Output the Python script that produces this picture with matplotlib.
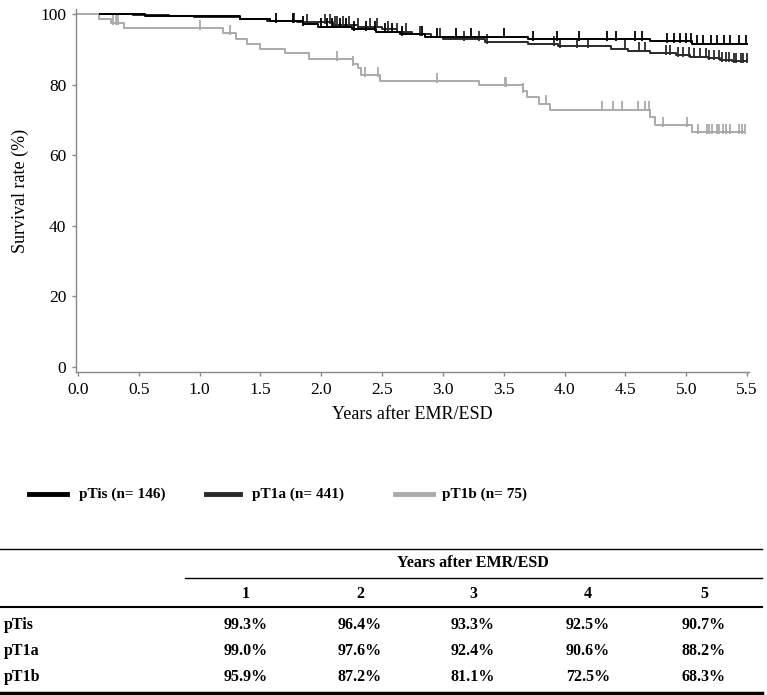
import matplotlib
matplotlib.use("Agg")
import matplotlib.pyplot as plt
from matplotlib.lines import Line2D

plt.rcParams["font.family"] = ["Liberation Serif", "DejaVu Serif"]

# Kaplan-Meier steps (years, survival %)
tis_t = [0.18, 0.55, 1.33, 1.58, 1.85, 1.97, 2.25, 2.45, 2.65, 2.85, 3.70, 4.70, 5.05, 5.50]
tis_s = [100.0, 99.3, 98.6, 97.9, 97.1, 96.4, 95.7, 95.0, 94.2, 93.6, 92.9, 92.2, 91.6, 91.6]
tis_cens = [1.63, 1.77, 1.85, 2.00, 2.05, 2.09, 2.15, 2.20, 2.27, 2.37, 2.44, 2.52, 2.58,
            2.66, 2.83, 2.95, 3.11, 3.23, 3.50, 3.74, 3.94, 4.12, 4.35, 4.42, 4.58,
            4.64, 4.84, 4.90, 4.95, 5.00, 5.04, 5.09, 5.14, 5.20, 5.25, 5.31, 5.36, 5.43, 5.49]

t1a_t = [0.18, 0.45, 0.75, 0.95, 1.33, 1.55, 1.80, 2.10, 2.30, 2.50, 2.62, 2.75,
         2.90, 3.00, 3.35, 3.70, 3.95, 4.38, 4.52, 4.70, 4.92, 5.03, 5.18, 5.28, 5.38, 5.50]
t1a_s = [100.0, 99.6, 99.3, 99.0, 98.5, 98.0, 97.6, 97.0, 96.4, 95.7, 95.0, 94.3,
         93.6, 92.9, 92.1, 91.5, 90.9, 90.2, 89.6, 89.0, 88.4, 87.9, 87.5, 87.0, 86.6, 86.6]
t1a_cens = [1.78, 1.88, 2.03, 2.07, 2.11, 2.13, 2.18, 2.23, 2.30, 2.40, 2.46, 2.55, 2.62,
            2.70, 2.81, 2.98, 3.17, 3.30, 3.36, 3.91, 3.96, 4.10, 4.19, 4.50, 4.61, 4.66,
            4.83, 4.87, 4.93, 4.97, 5.02, 5.06, 5.11, 5.16, 5.19, 5.23, 5.27, 5.29, 5.33,
            5.35, 5.39, 5.41, 5.45, 5.47, 5.50]

t1b_t = [0.0, 0.17, 0.27, 0.38, 1.19, 1.30, 1.39, 1.50, 1.70, 1.90, 2.26, 2.30, 2.33,
         2.48, 3.30, 3.66, 3.69, 3.79, 3.88, 4.70, 4.74, 5.05, 5.47]
t1b_s = [100.0, 98.7, 97.4, 96.0, 94.6, 93.0, 91.6, 90.0, 88.8, 87.1, 85.8, 84.6, 82.7,
         81.0, 79.8, 78.2, 76.4, 74.6, 72.9, 70.8, 68.6, 66.6, 66.6]
t1b_cens = [0.29, 0.31, 0.33, 1.00, 1.25, 2.13, 2.26, 2.36, 2.47, 2.95, 3.51, 3.52, 3.66,
            3.85, 4.31, 4.40, 4.47, 4.60, 4.66, 4.69, 4.81, 5.01, 5.10, 5.17, 5.19, 5.21,
            5.25, 5.27, 5.30, 5.33, 5.36, 5.43, 5.46, 5.48]

legend_labels = ["pTis (n= 146)", "pT1a (n= 441)", "pT1b (n= 75)"]
colors = ["#000000", "#2a2a2a", "#aaaaaa"]

row_labels = ["pTis", "pT1a", "pT1b"]
year_cols = ["1", "2", "3", "4", "5"]
table_vals = [["99.3%", "96.4%", "93.3%", "92.5%", "90.7%"],
              ["99.0%", "97.6%", "92.4%", "90.6%", "88.2%"],
              ["95.9%", "87.2%", "81.1%", "72.5%", "68.3%"]]

W, H = 767, 695
fig = plt.figure(figsize=(W / 100, H / 100), dpi=100)


def fx(px):
    return px / W


def fy(py):
    return 1 - py / H


ax = fig.add_axes([fx(76), fy(372), fx(749) - fx(76), fy(9) - fy(372)])


def step_value(ts, ss, x):
    val = ss[0]
    for t, s in zip(ts, ss):
        if t <= x:
            val = s
    return val


curves = [(t1b_t, t1b_s, t1b_cens), (t1a_t, t1a_s, t1a_cens), (tis_t, tis_s, tis_cens)]
for (ts, ss, cens), c in zip(curves, colors[::-1]):
    ax.step(ts, ss, where="post", color=c, lw=1.4)
    cy = [step_value(ts, ss, x) for x in cens]
    ax.plot(cens, [y + 0.9 for y in cy], ls="none", marker="|", ms=6.5, mew=1.3, color=c)

ax.set_xlim(-0.016, 5.516)
ax.set_ylim(-1.4, 101.4)
ax.set_xticks([0.0, 0.5, 1.0, 1.5, 2.0, 2.5, 3.0, 3.5, 4.0, 4.5, 5.0, 5.5])
ax.set_xticklabels(["%.1f" % v for v in ax.get_xticks()])
ax.set_yticks([0, 20, 40, 60, 80, 100])
for s in ["top", "right"]:
    ax.spines[s].set_visible(False)
for s in ["left", "bottom"]:
    ax.spines[s].set_color("#888888")
    ax.spines[s].set_linewidth(1.0)
ax.tick_params(direction="out", length=3, width=1.0, color="#888888",
               labelsize=12.5, pad=4)
ax.set_ylabel("Survival rate (%)", fontsize=13, labelpad=8)
ax.set_xlabel("Years after EMR/ESD", fontsize=13, labelpad=6)

# legend drawn by hand in pixel positions
leg_y = 494
for lab, c, x0, x1, xt in zip(legend_labels, colors, [29, 206, 395], [67, 240, 433], [79, 252, 442]):
    fig.add_artist(Line2D([fx(x0), fx(x1)], [fy(leg_y), fy(leg_y)], color=c, lw=3.5,
                          transform=fig.transFigure))
    fig.text(fx(xt), fy(leg_y), lab, fontsize=11, fontweight="bold", va="center")


# survival table
def hline(py, x0, x1, lw):
    fig.add_artist(Line2D([fx(x0), fx(x1)], [fy(py), fy(py)], color="black", lw=lw,
                          transform=fig.transFigure))


hline(549, 0, 762, 1.0)
hline(578, 185, 762, 1.0)
hline(607, 0, 762, 1.5)
hline(693, 0, 762, 2.5)

col_x = [246, 360, 473, 588, 704]
fs = 11.5
fig.text(fx(473), fy(563), "Years after EMR/ESD", fontsize=fs, fontweight="bold",
         ha="center", va="center")
for cx, lab in zip(col_x, year_cols):
    fig.text(fx(cx), fy(594), lab, fontsize=fs, fontweight="bold", ha="center", va="center")
for ry, rlab, vals in zip([625, 651, 677], row_labels, table_vals):
    fig.text(fx(4), fy(ry), rlab, fontsize=fs, fontweight="bold", ha="left", va="center")
    for cx, v in zip(col_x, vals):
        fig.text(fx(cx), fy(ry), v, fontsize=fs, fontweight="bold", ha="center", va="center")

fig.savefig("out.png", dpi=100)
